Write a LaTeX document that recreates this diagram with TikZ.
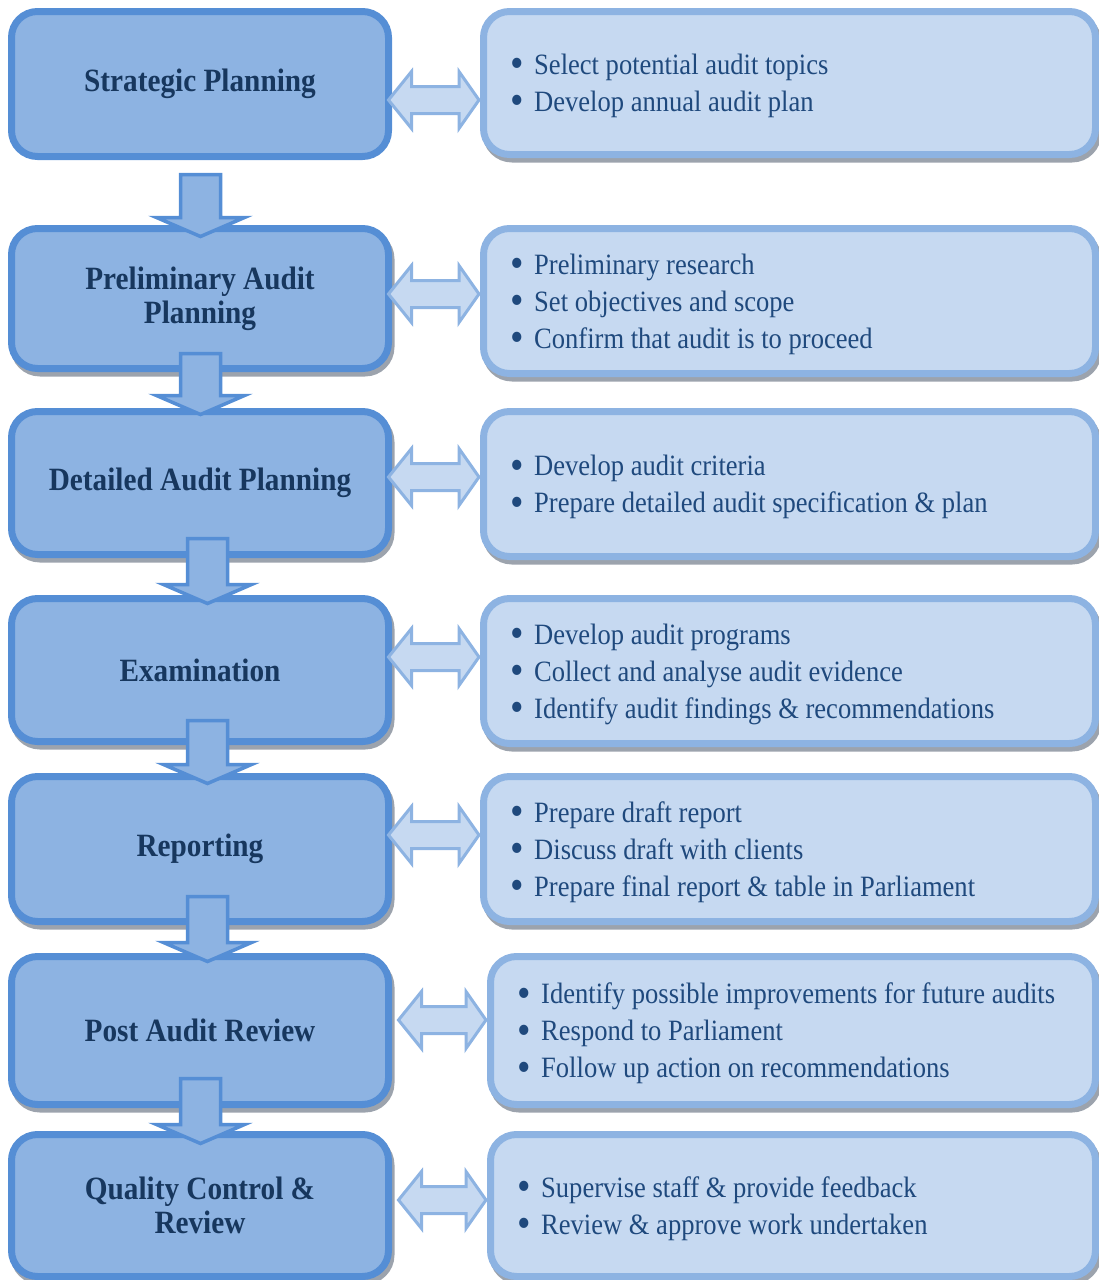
\documentclass[tikz,border=0pt]{standalone}
\usepackage{fontspec}
\setmainfont{Liberation Serif}[FakeStretch=0.9]
\usetikzlibrary{calc,shadows}

\definecolor{stepfill}{HTML}{8DB3E2}
\definecolor{stepline}{HTML}{558ED5}
\definecolor{infofill}{HTML}{C6D9F1}
\definecolor{infoline}{HTML}{8DB3E2}
\definecolor{titlenavy}{HTML}{17375E}
\definecolor{itemblue}{HTML}{1F497D}
\definecolor{shadowgray}{HTML}{9CA3AD}

% bullet with a fixed gap before the item text
\newcommand\itm{\makebox[24pt][l]{\raisebox{-3.4pt}[0pt][0pt]{\scalebox{1.45}{•}}}}

% block arrow from one phase box down into the next
% #1 upper box, #2 lower box, #3 x shift, #4 start y shift, #5 tip y shift
\newcommand\flowstep[5]{%
  \coordinate (fa) at ($(#1.south)+(#3,#4)$);
  \coordinate (fb) at ($(#2.north)+(#3,#5)$);
  \draw[flowarrow] ($(fa)+(-20,0)$) -- ($(fa)+(20,0)$) -- ($(fb)+(20,19)$)
    -- ($(fb)+(44,19)$) -- (fb) -- ($(fb)+(-44,19)$) -- ($(fb)+(-20,19)$) -- cycle;}

% two-headed block arrow between a phase box and its task box
% #1 phase box, #2 task box, #3 y, #4 x shift of the left tip
\newcommand\linkarrow[4]{%
  \coordinate (la) at ($(#1.east |- 0,#3)+(#4,0)$);
  \coordinate (lb) at ($(#2.west |- 0,#3)+(-1,0)$);
  \draw[twoway] (la) -- ($(la)+(23,28.5)$) -- ($(la)+(23,13.5)$)
    -- ($(lb)+(-20,13.5)$) -- ($(lb)+(-20,28.5)$) -- (lb)
    -- ($(lb)+(-20,-28.5)$) -- ($(lb)+(-20,-13.5)$)
    -- ($(la)+(23,-13.5)$) -- ($(la)+(23,-28.5)$) -- cycle;}

\begin{document}
\begin{tikzpicture}[x=1pt,y=1pt,
  boxshadow/.style={general shadow={fill=shadowgray, draw=shadowgray,
      line width=7pt, shadow xshift=2.5pt, shadow yshift=-4.5pt}},
  stepbox/.style={draw=stepline, fill=stepfill, line width=7pt,
      rounded corners=26pt, minimum width=377pt, inner sep=0pt,
      align=center, text=titlenavy,
      font=\fontsize{32.5}{34}\selectfont\bfseries},
  infobox/.style={boxshadow, draw=infoline, fill=infofill, line width=7pt,
      rounded corners=26pt, inner sep=0pt},
  infotext/.style={anchor=west, inner sep=0pt, align=left, text=itemblue,
      font=\fontsize{29.5}{37}\selectfont},
  flowarrow/.style={draw=stepline, fill=stepfill, line width=3.5pt,
      line join=miter},
  twoway/.style={draw=infoline, fill=infofill, line width=3pt,
      line join=miter}]
\useasboundingbox (0,0) rectangle (1099,-1280);

% phase boxes
\node[stepbox, minimum height=145pt] (s1) at (200,-84) {Strategic Planning};
\node[stepbox, boxshadow, minimum height=140pt] (s2) at (200,-298.5) {Preliminary Audit\\Planning};
\node[stepbox, boxshadow, minimum height=143pt] (s3) at (200,-483) {Detailed Audit Planning};
\node[stepbox, boxshadow, minimum height=143pt] (s4) at (200,-670) {Examination};
\node[stepbox, boxshadow, minimum height=145pt] (s5) at (200,-849) {Reporting};
\node[stepbox, boxshadow, minimum height=148pt] (s6) at (200,-1030.5) {Post Audit Review};
\node[stepbox, boxshadow, minimum height=142pt] (s7) at (200,-1205.5) {Quality Control \&\\Review};

% task boxes
\node[infobox, minimum width=612pt, minimum height=143pt] (r1) at (789.5,-83) {};
\node[infobox, minimum width=612pt, minimum height=145pt] (r2) at (789.5,-301) {};
\node[infobox, minimum width=612pt, minimum height=145pt] (r3) at (789.5,-484) {};
\node[infobox, minimum width=612pt, minimum height=145pt] (r4) at (789.5,-671) {};
\node[infobox, minimum width=612pt, minimum height=145pt] (r5) at (789.5,-849) {};
\node[infobox, minimum width=605pt, minimum height=148pt] (r6) at (793,-1030.5) {};
\node[infobox, minimum width=605pt, minimum height=142pt] (r7) at (793,-1205.5) {};

% task lists
\node[infotext] (t1) at ($(r1.west)+(30,-3)$)
  {\itm Select potential audit topics\\\itm Develop annual audit plan};
\node[infotext] (t2) at ($(r2.west)+(30,-3)$)
  {\itm Preliminary research\\\itm Set objectives and scope\\\itm Confirm that audit is to proceed};
\node[infotext] (t3) at ($(r3.west)+(30,-3)$)
  {\itm Develop audit criteria\\\itm Prepare detailed audit specification \& plan};
\node[infotext] (t4) at ($(r4.west)+(30,-3)$)
  {\itm Develop audit programs\\\itm Collect and analyse audit evidence\\\itm Identify audit findings \& recommendations};
\node[infotext] (t5) at ($(r5.west)+(30,-3)$)
  {\itm Prepare draft report\\\itm Discuss draft with clients\\\itm Prepare final report \& table in Parliament};
\node[infotext] (t6) at ($(r6.west)+(30,-3)$)
  {\itm Identify possible improvements for future audits\\\itm Respond to Parliament\\\itm Follow up action on recommendations};
\node[infotext] (t7) at ($(r7.west)+(30,-3)$)
  {\itm Supervise staff \& provide feedback\\\itm Review \& approve work undertaken};

% flow between phases
\flowstep{s1}{s2}{0.5}{-14.5}{-11.5}
\flowstep{s2}{s3}{0.5}{18.5}{-6.5}
\flowstep{s3}{s4}{7.5}{19.5}{-8.5}
\flowstep{s4}{s5}{7.5}{24.5}{-10.5}
\flowstep{s5}{s6}{7.5}{28.5}{-8.5}
\flowstep{s6}{s7}{0.5}{29.5}{-12.5}

% links between each phase and its tasks
\linkarrow{s1}{r1}{-100}{-3.5}
\linkarrow{s2}{r2}{-294}{-3.5}
\linkarrow{s3}{r3}{-477}{-3.5}
\linkarrow{s4}{r4}{-657}{-3.5}
\linkarrow{s5}{r5}{-835}{-3.5}
\linkarrow{s6}{r6}{-1020}{6.5}
\linkarrow{s7}{r7}{-1200}{6.5}
\end{tikzpicture}
\end{document}
